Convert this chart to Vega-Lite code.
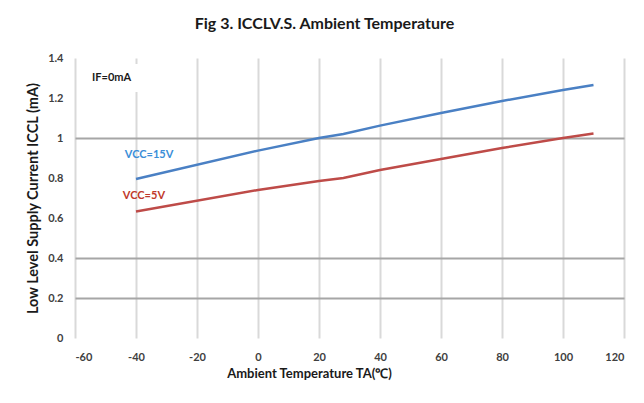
{
  "$schema": "https://vega.github.io/schema/vega-lite/v6.json",
  "width": 549,
  "height": 280,
  "autosize": {"type": "none"},
  "padding": {"left": 75, "top": 58, "right": 20, "bottom": 65},
  "background": "white",
  "title": {
    "text": "Fig 3. ICCLV.S. Ambient Temperature",
    "font": "Lato",
    "fontSize": 16,
    "fontWeight": "bold",
    "color": "#1a1a1a",
    "anchor": "middle",
    "dx": -25,
    "offset": 20
  },
  "config": {
    "view": {"stroke": null},
    "axis": {
      "labelFont": "Lato",
      "titleFont": "Lato",
      "labelFontSize": 11,
      "labelFontWeight": "bold",
      "labelColor": "#404040",
      "labelOverlap": false,
      "titleFontSize": 13,
      "titleFontWeight": "bold",
      "titleColor": "#1a1a1a",
      "domain": false,
      "ticks": false
    }
  },
  "datasets": {
    "lines": [
      {"t": -40, "v": 0.795, "s": "VCC=15V"},
      {"t": 0, "v": 0.937, "s": "VCC=15V"},
      {"t": 20, "v": 1.0, "s": "VCC=15V"},
      {"t": 28, "v": 1.02, "s": "VCC=15V"},
      {"t": 40, "v": 1.062, "s": "VCC=15V"},
      {"t": 60, "v": 1.125, "s": "VCC=15V"},
      {"t": 80, "v": 1.185, "s": "VCC=15V"},
      {"t": 100, "v": 1.24, "s": "VCC=15V"},
      {"t": 110, "v": 1.265, "s": "VCC=15V"},
      {"t": -40, "v": 0.632, "s": "VCC=5V"},
      {"t": 0, "v": 0.74, "s": "VCC=5V"},
      {"t": 20, "v": 0.785, "s": "VCC=5V"},
      {"t": 28, "v": 0.8, "s": "VCC=5V"},
      {"t": 40, "v": 0.84, "s": "VCC=5V"},
      {"t": 60, "v": 0.895, "s": "VCC=5V"},
      {"t": 80, "v": 0.95, "s": "VCC=5V"},
      {"t": 100, "v": 1.0, "s": "VCC=5V"},
      {"t": 110, "v": 1.023, "s": "VCC=5V"}
    ],
    "labels": [
      {"t": -35.7, "v": 0.915, "label": "VCC=15V", "s": "VCC=15V"},
      {"t": -37.4, "v": 0.71, "label": "VCC=5V", "s": "VCC=5V"}
    ],
    "note": [
      {"t": -48, "v": 1.3, "label": "IF=0mA", "x1": -42, "x2": -38, "y1": 1.23, "y2": 1.37}
    ]
  },
  "layer": [
    {
      "data": {"name": "note"},
      "mark": {"type": "rect", "color": "white"},
      "encoding": {
        "x": {
          "field": "x1", "type": "quantitative",
          "scale": {"domain": [-60, 120], "nice": false},
          "axis": {
            "values": [-60, -40, -20, 0, 20, 40, 60, 80, 100, 120],
            "labelExpr": "toString(datum.value)",
            "grid": true,
            "gridColor": "#d9d9d9",
            "gridWidth": 2,
            "labelPadding": 13,
            "title": "Ambient Temperature TA(℃)",
            "titleX": 234,
            "titleY": 35,
            "titleBaseline": "middle"
          }
        },
        "x2": {"field": "x2"},
        "y": {
          "field": "y1", "type": "quantitative",
          "scale": {"domain": [0, 1.4], "nice": false, "zero": true},
          "axis": {
            "values": [0, 0.2, 0.4, 0.6, 0.8, 1, 1.2, 1.4],
            "tickCount": 8,
            "labelOverlap": false,
            "labelExpr": "toString(datum.value)",
            "grid": true,
            "gridColor": "#a6a6a6",
            "gridWidth": 2,
            "gridOpacity": {"condition": {"test": "abs(datum.value - 0.2) < 0.01 || abs(datum.value - 0.4) < 0.01 || abs(datum.value - 1) < 0.01", "value": 1}, "value": 0},
            "labelPadding": 12,
            "title": "Low Level Supply Current ICCL (mA)",
            "titleFontSize": 14.5,
            "titleX": -42,
            "titleBaseline": "middle"
          }
        },
        "y2": {"field": "y2"}
      }
    },
    {
      "data": {"name": "lines"},
      "mark": {"type": "line", "strokeWidth": 2.5},
      "encoding": {
        "x": {"field": "t", "type": "quantitative"},
        "y": {"field": "v", "type": "quantitative"},
        "color": {
          "field": "s", "type": "nominal",
          "scale": {"domain": ["VCC=15V", "VCC=5V"], "range": ["#4a80c4", "#be4b48"]},
          "legend": null
        }
      }
    },
    {
      "data": {"name": "labels"},
      "mark": {"type": "text", "font": "Lato", "fontSize": 11, "fontWeight": "bold", "align": "center", "baseline": "middle"},
      "encoding": {
        "x": {"field": "t", "type": "quantitative"},
        "y": {"field": "v", "type": "quantitative"},
        "text": {"field": "label"},
        "color": {"field": "s", "type": "nominal", "scale": {"domain": ["VCC=15V", "VCC=5V"], "range": ["#3b8ed8", "#c0392b"]}, "legend": null}
      }
    },
    {
      "data": {"name": "note"},
      "mark": {"type": "text", "font": "Lato", "fontSize": 11, "fontWeight": "bold", "align": "center", "baseline": "middle", "color": "#1a1a1a"},
      "encoding": {
        "x": {"field": "t", "type": "quantitative"},
        "y": {"field": "v", "type": "quantitative"},
        "text": {"field": "label"}
      }
    }
  ],
  "resolve": {"scale": {"color": "independent"}}
}
